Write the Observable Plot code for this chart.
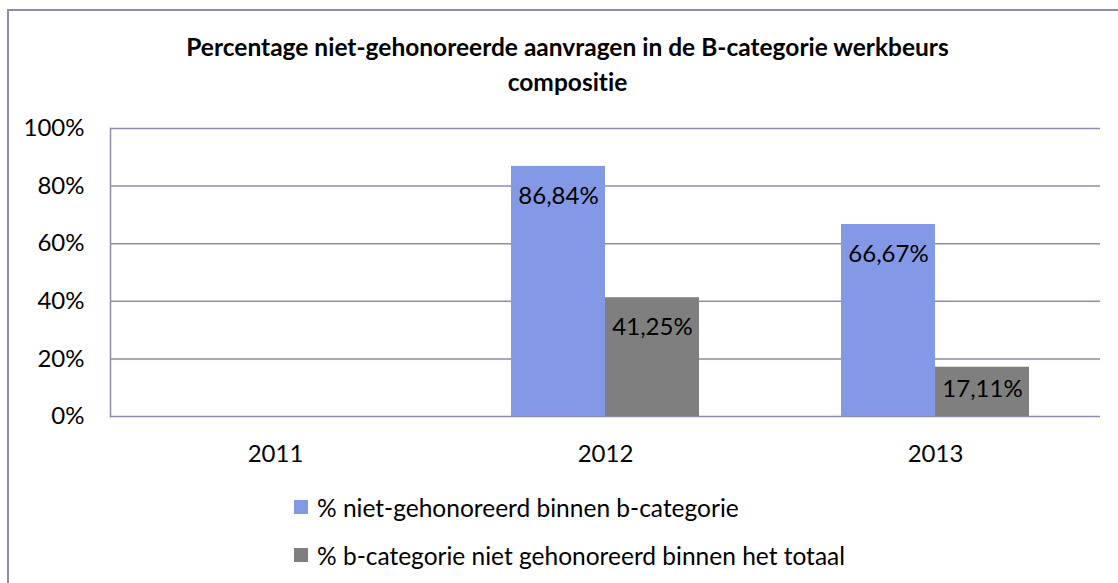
<!DOCTYPE html>
<html>
<head>
<meta charset="utf-8">
<script src="https://cdn.jsdelivr.net/npm/d3@7"></script>
<script src="https://cdn.jsdelivr.net/npm/@observablehq/plot@0.6"></script>
<style>
  html, body { margin: 0; padding: 0; background: #fff; }
  body { width: 1118px; height: 583px; position: relative; overflow: hidden; font-family: Lato, "Open Sans", sans-serif; color: #000; font-variant-ligatures: none; }
  svg text { font-variant-ligatures: none; }
  #frame { position: absolute; left: 7px; top: 9px; width: 1130px; height: 590px; border-left: 2px solid #8a8dab; border-top: 2px solid #8a8dab; box-sizing: border-box; }
  #title { position: absolute; left: 0; top: 29px; width: 1135px; text-align: center; font-weight: bold; font-size: 24.5px; line-height: 35px; }
  #chart { position: absolute; left: 0; top: 100px; }
  #legend { position: absolute; left: 294px; top: 483px; font-size: 24.5px; }
  .item { display: flex; align-items: center; height: 48px; }
  .sw { width: 14px; height: 14px; margin-right: 9px; }
</style>
</head>
<body>
<div id="frame"></div>
<div id="title">Percentage niet-gehonoreerde aanvragen in de B-categorie werkbeurs<br>compositie</div>
<div id="chart"></div>
<div id="legend"></div>
<script>
const years = ["2011", "2012", "2013"];
const seriesNames = ["% niet-gehonoreerd binnen b-categorie", "% b-categorie niet gehonoreerd binnen het totaal"];
const seriesA = [null, 0.8684, 0.6667];
const seriesB = [null, 0.4125, 0.1711];
const labelsA = [null, "86,84%", "66,67%"];
const labelsB = [null, "41,25%", "17,11%"];
const yTicks = [0, 0.2, 0.4, 0.6, 0.8, 1.0];
const colors = ["#8499e6", "#7f7f7f"];

const rowsA = years.map((y, i) => ({year: y, value: seriesA[i], label: labelsA[i]})).filter(d => d.value != null);
const rowsB = years.map((y, i) => ({year: y, value: seriesB[i], label: labelsB[i]})).filter(d => d.value != null);

const gridColor = "#8a8dab";
const font = "Lato, 'Open Sans', sans-serif";

const chart = Plot.plot({
  width: 1118,
  height: 375,
  marginLeft: 110,
  marginRight: 18,
  marginTop: 28,
  marginBottom: 59,
  style: {fontFamily: font, fontSize: "24px", color: "#000", background: "transparent"},
  x: {domain: years, padding: 0, round: false, label: null, tickSize: 0, tickPadding: 28},
  y: {domain: [0, 1], ticks: yTicks, tickFormat: d => Math.round(d * 100) + "%", tickSize: 0, tickPadding: 26, label: null},
  marks: [
    Plot.ruleY(yTicks, {stroke: gridColor, strokeWidth: 1.5}),
    Plot.frame({anchor: "left", stroke: gridColor, strokeWidth: 1.5}),
    Plot.barY(rowsA, {x: "year", y: "value", fill: colors[0], insetLeft: 71, insetRight: 165}),
    Plot.barY(rowsB, {x: "year", y: "value", fill: colors[1], insetLeft: 165, insetRight: 71}),
    Plot.text(rowsA, {x: "year", y: "value", text: "label", dx: -47, dy: 30, fill: "#000", fontSize: 24}),
    Plot.text(rowsB.filter(d => d.value >= 0.3), {x: "year", y: "value", text: "label", dx: 47, dy: 30, fill: "#000", fontSize: 24}),
    Plot.text(rowsB.filter(d => d.value < 0.3), {x: "year", y: "value", text: "label", dx: 47, dy: 22, fill: "#000", fontSize: 24})
  ]
});
document.getElementById("chart").appendChild(chart);

const legend = document.getElementById("legend");
seriesNames.forEach((name, i) => {
  const item = document.createElement("div");
  item.className = "item";
  const sw = document.createElement("span");
  sw.className = "sw";
  sw.style.background = colors[i];
  const t = document.createElement("span");
  t.textContent = name;
  item.appendChild(sw);
  item.appendChild(t);
  legend.appendChild(item);
});
</script>
</body>
</html>
